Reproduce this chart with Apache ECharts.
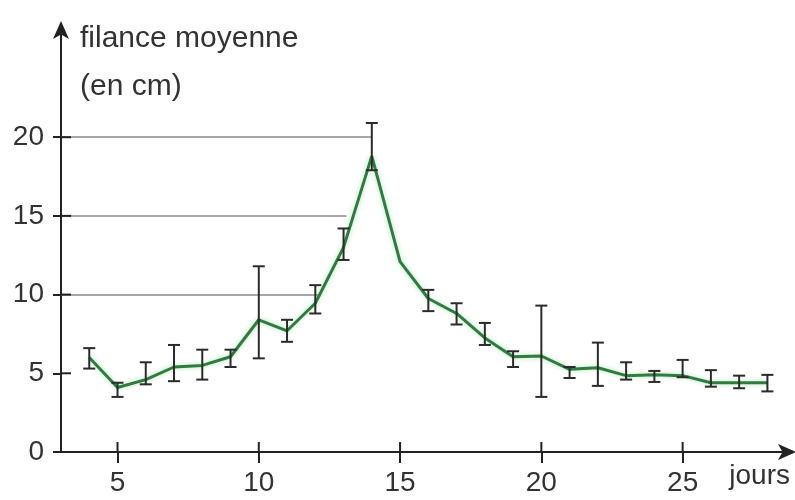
<!DOCTYPE html>
<html>
<head>
<meta charset="utf-8">
<script src="https://cdn.jsdelivr.net/npm/echarts@6/dist/echarts.min.js"></script>
<style>html,body{margin:0;padding:0;background:#fff}#c{width:795px;height:500px}</style>
</head>
<body>
<div id="c"></div>
<script>
// ---- data ----
var days   = [4, 5, 6, 7, 8, 9, 10, 11, 12, 13, 14, 15, 16, 17, 18, 19, 20, 21, 22, 23, 24, 25, 26, 27, 28];
var values = [6.0, 4.1, 4.6, 5.4, 5.5, 6.05, 8.4, 7.7, 9.45, 13.0, 18.8, 12.1, 9.75, 8.8, 7.25, 6.05, 6.1, 5.25, 5.35, 4.85, 4.9, 4.85, 4.4, 4.4, 4.4];
var errLow  = [5.3, 3.5, 4.3, 4.5, 4.6, 5.4, 5.95, 7.0, 8.8, 12.2, 17.9, null, 8.95, 8.1, 6.8, 5.4, 3.5, 4.7, 4.2, 4.6, 4.45, 4.75, 4.15, 4.05, 3.85];
var errHigh = [6.6, 4.4, 5.7, 6.8, 6.5, 6.5, 11.8, 8.4, 10.6, 14.2, 20.9, null, 10.3, 9.45, 8.2, 6.4, 9.3, 5.4, 6.95, 5.7, 5.15, 5.85, 5.2, 4.85, 4.9];
var xTicks = [5, 10, 15, 20, 25];
var yTicks = [0, 5, 10, 15, 20];
var refLevels = [10, 15, 20];
var refEnds   = [12.1, 13.1, 14.0];
var yTitle = 'filance moyenne\n(en cm)';
var xTitle = 'jours';

var X_MIN = 3, X_MAX = 28.8, Y_MIN = 0, Y_MAX = 27;

var lineData = days.map(function (d, i) { return [d, values[i]]; });
var errData = [];
days.forEach(function (d, i) { if (errLow[i] != null) errData.push([d, errLow[i], errHigh[i]]); });
var refData = refLevels.map(function (v, i) { return [[X_MIN, v], [refEnds[i], v]]; });
// inner halves of the crossing ticks: [axis(0=x,1=y), value]
var innerTicks = xTicks.map(function (v) { return [0, v]; }).concat(yTicks.map(function (v) { return [1, v]; }));

var FONT = '"Liberation Sans", Arial, sans-serif';
var TXT = '#333';
var AX = '#222';

var chart = echarts.init(document.getElementById('c'), null, {renderer: 'canvas'});
chart.setOption({
  animation: false,
  grid: {left: 61, top: 27, width: 729, height: 425, containLabel: false},
  xAxis: {
    type: 'value', min: X_MIN, max: X_MAX,
    name: xTitle, nameLocation: 'end', nameGap: 0,
    nameTextStyle: {fontFamily: FONT, fontSize: 28, color: TXT, align: 'right', verticalAlign: 'top', padding: [10, 0, 0, 0]},
    axisLine: {show: true, onZero: false, lineStyle: {color: AX, width: 2}, symbol: ['none', 'arrow'], symbolSize: [12, 18], symbolOffset: [0, 6]},
    axisTick: {show: true, length: 11, lineStyle: {color: AX, width: 2}, customValues: xTicks},
    axisLabel: {show: true, fontFamily: FONT, fontSize: 28, color: TXT, margin: 17, customValues: xTicks},
    splitLine: {show: false}
  },
  yAxis: {
    type: 'value', min: Y_MIN, max: Y_MAX,
    name: yTitle, nameLocation: 'end', nameGap: 12,
    nameTextStyle: {fontFamily: FONT, fontSize: 30, lineHeight: 48, color: TXT, align: 'left', verticalAlign: 'top', padding: [0, 0, 0, 19]},
    axisLine: {show: true, onZero: false, lineStyle: {color: AX, width: 2}, symbol: ['none', 'arrow'], symbolSize: [12, 18], symbolOffset: [0, 6]},
    axisTick: {show: true, length: 8, lineStyle: {color: AX, width: 2}, customValues: yTicks},
    axisLabel: {show: true, fontFamily: FONT, fontSize: 28, color: TXT, margin: 17, padding: [0, 0, 18, 0], customValues: yTicks},
    splitLine: {show: false}
  },
  series: [
    {
      type: 'lines', coordinateSystem: 'cartesian2d',
      polyline: false, silent: true, z: 1,
      lineStyle: {color: '#8a8a8a', width: 1.5, opacity: 1},
      data: refData.map(function (c) { return {coords: c}; })
    },
    {
      type: 'line', data: lineData,
      showSymbol: false, z: 3,
      lineStyle: {color: '#2e7d3f', width: 3, shadowColor: 'rgba(80,190,100,0.45)', shadowBlur: 5}
    },
    {
      type: 'custom', data: errData, z: 4,
      encode: {x: 0, y: [1, 2]},
      renderItem: function (params, api) {
        var x = api.value(0);
        var lo = api.coord([x, api.value(1)]);
        var hi = api.coord([x, api.value(2)]);
        var hw = 6;
        var st = {stroke: '#2b2b2b', lineWidth: 2};
        return {type: 'group', children: [
          {type: 'line', shape: {x1: lo[0], y1: lo[1], x2: hi[0], y2: hi[1]}, style: st},
          {type: 'line', shape: {x1: lo[0] - hw, y1: lo[1], x2: lo[0] + hw, y2: lo[1]}, style: st},
          {type: 'line', shape: {x1: hi[0] - hw, y1: hi[1], x2: hi[0] + hw, y2: hi[1]}, style: st}
        ]};
      }
    },
    {
      type: 'custom', data: innerTicks, z: 5, silent: true, clip: false,
      encode: {x: -1, y: -1},
      renderItem: function (params, api) {
        var isY = api.value(0) === 1;
        var v = api.value(1);
        var p = isY ? api.coord([X_MIN, v]) : api.coord([v, Y_MIN]);
        var st = {stroke: AX, lineWidth: 2};
        var shape = isY ? {x1: p[0], y1: p[1], x2: p[0] + 10, y2: p[1]}
                        : {x1: p[0], y1: p[1], x2: p[0], y2: p[1] - 10};
        return {type: 'line', shape: shape, style: st};
      }
    }
  ]
});
</script>
</body>
</html>
